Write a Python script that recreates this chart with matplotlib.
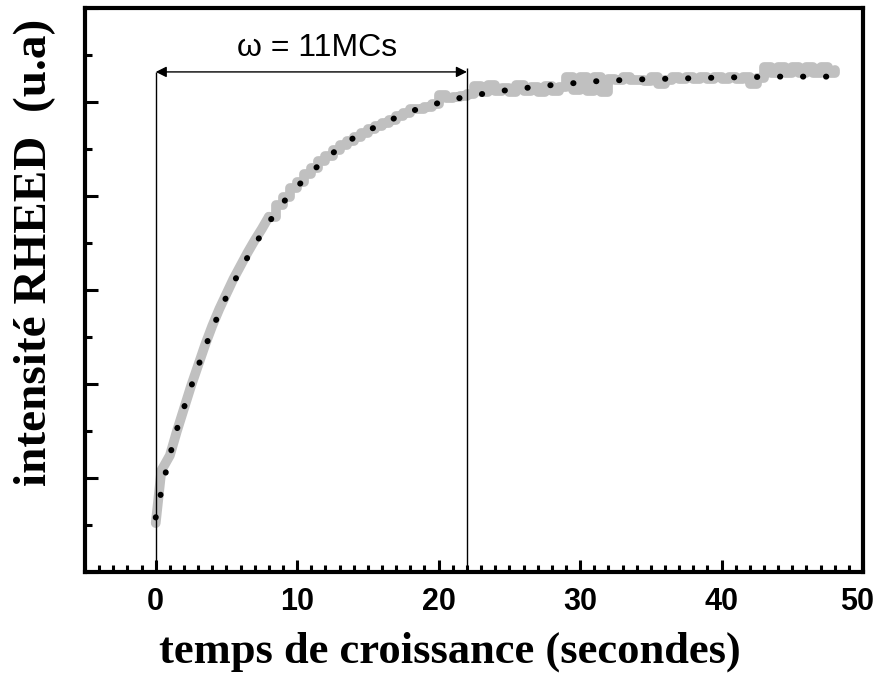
import matplotlib
matplotlib.use('Agg')
import matplotlib.pyplot as plt
import matplotlib.transforms as mtrans
from matplotlib.ticker import MultipleLocator, NullFormatter

# measured RHEED intensity (gray, staircase-like)
t_data = [0.0, 0.2, 0.4, 1.0, 1.5, 2.0, 2.5, 3.0, 3.5, 4.0, 4.5, 5.0, 5.5, 6.0, 6.5, 7.0, 7.5,
          8.0, 8.5, 9.0, 9.5, 10.0, 10.5, 11.0, 11.5, 12.0, 12.5, 13.0, 13.5, 14.0, 14.5, 15.0,
          15.5, 16.0, 16.5, 17.0, 17.5, 18.0, 18.5, 19.0, 19.5, 20.0, 20.5, 21.0, 21.5,
          22.0, 22.5, 23.0, 23.5, 24.0, 24.5, 25.0, 25.5, 26.0, 26.5, 27.0, 27.5, 28.0, 28.5,
          29.0, 29.5, 30.0, 30.5, 31.0, 31.5, 32.0, 32.5, 33.0, 33.5, 34.0, 34.5, 35.0, 35.5,
          36.0, 36.5, 37.0, 37.5, 38.0, 38.5, 39.0, 39.5, 40.0, 40.5, 41.0, 41.5, 42.0, 42.5,
          43.0, 43.5, 44.0, 44.5, 45.0, 45.5, 46.0, 46.5, 47.0, 47.5, 48.0]
i_data = [0.52, 0.80, 1.08, 1.24, 1.50, 1.74, 1.98, 2.20, 2.42, 2.62, 2.80, 2.96, 3.12, 3.26,
          3.40, 3.53, 3.65, 3.78, 3.90, 3.99, 4.08, 4.15, 4.23, 4.30, 4.37, 4.43, 4.49, 4.54,
          4.59, 4.63, 4.67, 4.71, 4.74, 4.78, 4.81, 4.85, 4.88, 4.93, 4.93, 4.95, 4.98, 5.07,
          5.04, 5.05, 5.06,
          5.08, 5.17, 5.11, 5.18, 5.12, 5.15, 5.11, 5.18, 5.12, 5.16, 5.11, 5.17, 5.12, 5.16,
          5.27, 5.13, 5.27, 5.12, 5.27, 5.11, 5.25, 5.23, 5.27, 5.23, 5.23, 5.22, 5.27, 5.19,
          5.23, 5.27, 5.24, 5.27, 5.24, 5.27, 5.24, 5.27, 5.24, 5.27, 5.24, 5.27, 5.19, 5.26,
          5.37, 5.31, 5.37, 5.31, 5.37, 5.31, 5.37, 5.31, 5.37, 5.31, 5.34]

# fitted curve (black dotted)
t_fit = [0, 0.5, 1, 1.5, 2, 3, 4, 5, 6, 7, 8, 9, 10, 12, 14, 16, 18, 20, 22, 25, 28, 31, 34,
         37, 40, 44, 48]
i_fit = [0.58, 0.93, 1.24, 1.52, 1.75, 2.19, 2.59, 2.93, 3.22, 3.48, 3.72, 3.93, 4.10, 4.40,
         4.62, 4.77, 4.90, 4.99, 5.06, 5.13, 5.18, 5.22, 5.24, 5.25, 5.26, 5.27, 5.27]

t_start = 0
t_end = 22
arrow_level = 5.32
label_omega = 'ω = 11MCs'

fig = plt.figure(figsize=(8.79, 6.73), dpi=100)
ax = fig.add_axes([85/879, 1-572/673, 778/879, 564/673])

# steep start drawn as a plain line, the rest as a staircase
n_smooth = 17
gray = dict(color='#c0c0c0', lw=7, solid_joinstyle='round', solid_capstyle='round', zorder=2)
ax.plot(t_data[:n_smooth + 1], i_data[:n_smooth + 1], **gray)
ax.plot(t_data[n_smooth:], i_data[n_smooth:], drawstyle='steps-post', **gray)

ax.vlines(t_start, 0, arrow_level, color='k', lw=1, zorder=3)
ax.vlines(t_end, 0, arrow_level + 0.04, color='k', lw=1, zorder=3)
ax.annotate('', xy=(t_start, arrow_level), xytext=(t_end, arrow_level),
            arrowprops=dict(arrowstyle='<|-|>', color='k', lw=1, mutation_scale=16,
                            shrinkA=0, shrinkB=0), zorder=3)
ax.text((t_start + t_end) / 2 + 0.4, arrow_level + 0.1, label_omega, ha='center', va='bottom',
        fontsize=23, family=['Liberation Sans', 'DejaVu Sans'])
ax.plot(t_fit, i_fit, color='k', lw=4.3, linestyle=(0, (0.05, 3.8)),
        dash_capstyle='round', zorder=4)

ax.set_xlim(-5, 50)
ax.set_ylim(0, 6)
ax.xaxis.set_major_locator(MultipleLocator(10))
ax.xaxis.set_minor_locator(MultipleLocator(1))
ax.yaxis.set_major_locator(MultipleLocator(1))
ax.yaxis.set_minor_locator(MultipleLocator(0.5))
ax.yaxis.set_major_formatter(NullFormatter())
ax.tick_params(which='both', direction='in', top=False, right=False, width=2.2)
ax.tick_params(which='major', length=9)
ax.tick_params(which='minor', length=5)
ax.tick_params(axis='x', pad=11)
for s in ax.spines.values():
    s.set_linewidth(3)

fig.text(450/879, 1-652/673, 'temps de croissance (secondes)', ha='center', va='center',
         fontsize=32, fontweight='bold', family='Liberation Serif')
fig.text(35/879, 1-252/673, 'intensité RHEED  (u.a)', ha='center', va='center',
         rotation=90, fontsize=34, fontweight='bold', family='Liberation Serif')

fig.canvas.draw()
for lab in ax.get_xticklabels():
    lab.set_family(['Liberation Sans Narrow', 'Liberation Sans'])
    lab.set_fontweight('bold')
    lab.set_fontsize(22)
    if lab.get_text() == '50':
        # keep the last label inside the picture
        lab.set_transform(lab.get_transform() +
                          mtrans.ScaledTranslation(-4/72, 0, fig.dpi_scale_trans))

fig.savefig('out.png', dpi=100)
